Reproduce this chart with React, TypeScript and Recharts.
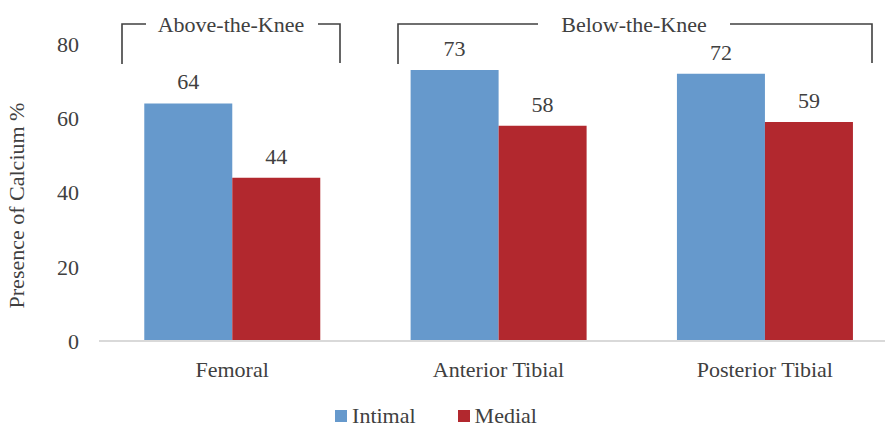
import React from "react";
import {
  BarChart,
  Bar,
  XAxis,
  YAxis,
  Legend,
  LabelList,
} from "recharts";

const categories = ["Femoral", "Anterior Tibial", "Posterior Tibial"];
const intimal = [64, 73, 72];
const medial = [44, 58, 59];
const yTicks = [0, 20, 40, 60, 80];

const BLUE = "#6699cc";
const RED = "#b2282e";
const TEXT = "#404040";
const FONT = "Liberation Serif, DejaVu Serif, serif";

const data = categories.map((name, i) => ({
  name,
  intimal: intimal[i],
  medial: medial[i],
}));

function YLabel(props: any) {
  const vb = props.viewBox || {};
  const x = 16;
  const y = (vb.y ?? 44) + (vb.height ?? 297) / 2 + 13;
  return (
    <text
      x={x}
      y={y}
      transform={`rotate(-90, ${x}, ${y})`}
      textAnchor="middle"
      dominantBaseline="central"
      fill={TEXT}
      fontSize={22}
      fontFamily={FONT}
    >
      Presence of Calcium %
    </text>
  );
}

function LegendBox() {
  const item = (color: string, label: string, gap: number) => (
    <span style={{ display: "inline-flex", alignItems: "center", marginRight: gap }}>
      <span style={{ width: 12, height: 12, background: color, display: "inline-block", marginRight: 5 }} />
      <span>{label}</span>
    </span>
  );
  return (
    <div
      style={{
        display: "flex",
        justifyContent: "center",
        paddingRight: 26,
        height: 22,
        lineHeight: "20px",
        fontSize: 22,
        color: TEXT,
        fontFamily: FONT,
      }}
    >
      {item(BLUE, "Intimal", 42)}
      {item(RED, "Medial", 0)}
    </div>
  );
}

// group brackets drawn over the chart
function Brackets() {
  const stroke = "#404040";
  const sw = 1.6;
  const t = { fontSize: 22, fill: TEXT, fontFamily: FONT, textAnchor: "middle" as const };
  return (
    <svg width={885} height={427} style={{ position: "absolute", left: 0, top: 0, pointerEvents: "none" }}>
      <polyline points="122,64 122,24 146,24" fill="none" stroke={stroke} strokeWidth={sw} />
      <polyline points="318,24 340,24 340,63" fill="none" stroke={stroke} strokeWidth={sw} />
      <text x={231} y={32} {...t}>Above-the-Knee</text>
      <polyline points="398,64 398,24 538,24" fill="none" stroke={stroke} strokeWidth={sw} />
      <polyline points="730,24 872,24 872,63" fill="none" stroke={stroke} strokeWidth={sw} />
      <text x={634} y={32} {...t}>Below-the-Knee</text>
    </svg>
  );
}

export default function App() {
  return (
    <div
      style={{
        position: "absolute",
        left: 0,
        top: 0,
        width: 885,
        height: 427,
        overflow: "hidden",
        background: "#fff",
        fontFamily: FONT,
      }}
    >
      <BarChart
        width={900}
        height={427}
        data={data}
        margin={{ top: 44, right: 2, left: 0, bottom: 0 }}
        barCategoryGap="17%"
        barGap={0}
      >
        <XAxis
          dataKey="name"
          height={64}
          tickSize={0}
          tickMargin={20}
          axisLine={{ stroke: "#d9d9d9", strokeWidth: 2 }}
          tick={{ fill: TEXT, fontSize: 22, fontFamily: FONT }}
        />
        <YAxis
          width={99}
          domain={[0, 80]}
          ticks={yTicks}
          tickSize={0}
          tickMargin={20}
          axisLine={false}
          tick={{ fill: TEXT, fontSize: 22, fontFamily: FONT }}
          label={<YLabel />}
        />
        <Legend verticalAlign="bottom" content={<LegendBox />} />
        <Bar dataKey="intimal" name="Intimal" fill={BLUE} isAnimationActive={false}>
          <LabelList dataKey="intimal" position="top" offset={14} fill={TEXT} fontSize={22} fontFamily={FONT} />
        </Bar>
        <Bar dataKey="medial" name="Medial" fill={RED} isAnimationActive={false}>
          <LabelList dataKey="medial" position="top" offset={14} fill={TEXT} fontSize={22} fontFamily={FONT} />
        </Bar>
      </BarChart>
      <Brackets />
    </div>
  );
}
